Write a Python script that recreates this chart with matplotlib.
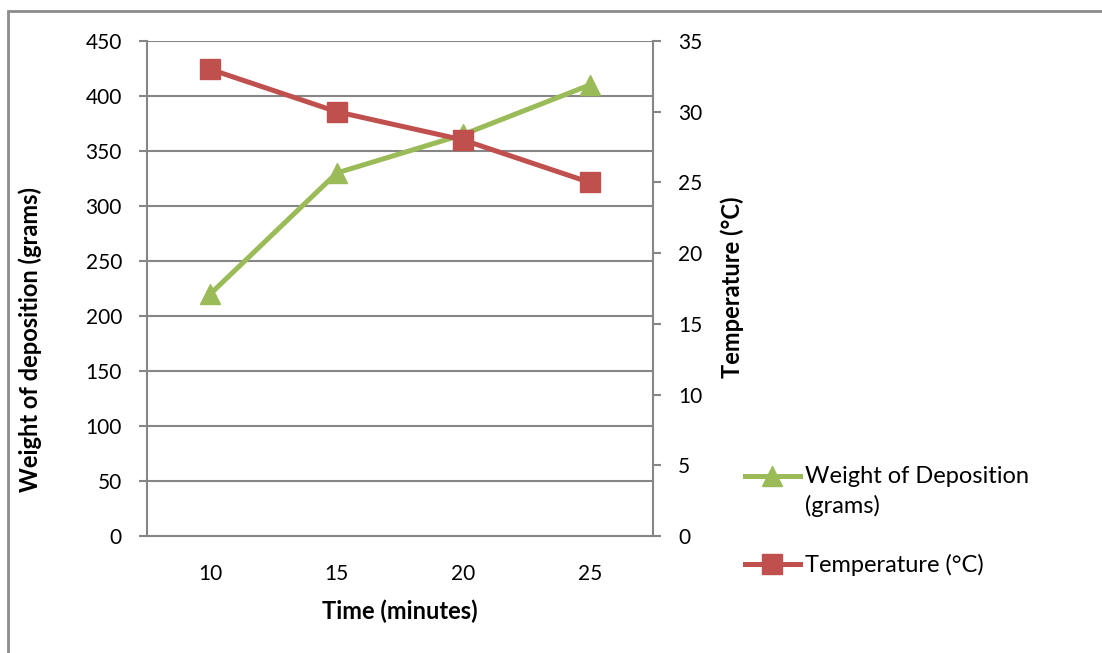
import matplotlib
matplotlib.use('Agg')
import matplotlib.pyplot as plt
from matplotlib.lines import Line2D
from matplotlib.patches import Rectangle

plt.rcParams['font.family'] = ['Lato', 'DejaVu Sans']

# Deposition experiment readings
time_min = [10, 15, 20, 25]
weight_g = [220, 330, 365, 410]
temp_c = [33, 30, 28, 25]

green = '#9BBB59'
red = '#C0504D'
axis_grey = '#868686'
fs = 15
fs_big = 17

fig = plt.figure(figsize=(11.02, 6.53), dpi=100)
ax = fig.add_axes([147/1102, 117/653, 506/1102, 495/653])
ax2 = ax.twinx()

xs = list(range(len(time_min)))
ax.plot(xs, weight_g, color=green, lw=3.6, marker='^', ms=15, mec=green, zorder=3)
ax2.plot(xs, temp_c, color=red, lw=3.6, marker='s', ms=14, mec=red, zorder=3)

ax.set_xlim(-0.5, len(time_min) - 0.5)
ax.set_ylim(0, 450)
ax.set_yticks(range(0, 451, 50))
ax2.set_ylim(0, 35)
ax2.set_yticks(range(0, 36, 5))
ax.set_xticks(xs)
ax.set_xticklabels([str(t) for t in time_min])

ax.grid(axis='y', color=axis_grey, lw=1.5)
ax.set_axisbelow(True)
for a in (ax, ax2):
    a.spines['top'].set_visible(False)
    for side in ('left', 'right', 'bottom'):
        a.spines[side].set_color(axis_grey)
        a.spines[side].set_linewidth(1.5)
ax.spines['right'].set_visible(False)
ax2.spines['left'].set_visible(False)
ax2.spines['bottom'].set_visible(False)

ax.tick_params(axis='y', length=6, width=1.5, color=axis_grey, pad=12, labelsize=fs)
ax2.tick_params(axis='y', length=6, width=1.5, color=axis_grey, pad=12, labelsize=fs)
ax.tick_params(axis='x', length=0, pad=20, labelsize=fs)

fig.text(30/1102, 1 - 339/653, 'Weight of deposition (grams)', rotation=90,
         ha='center', va='center', fontsize=fs_big, fontweight='bold')
fig.text(732/1102, 1 - 287/653, 'Temperature (°C)', rotation=90,
         ha='center', va='center', fontsize=fs_big, fontweight='bold')
fig.text(400/1102, 1 - 611/653, 'Time (minutes)', ha='center', va='center',
         fontsize=fs_big, fontweight='bold')

# legend entries drawn by hand so the handle sits on the first text line
entries = [(green, '^', 15, 'Weight of Deposition\n(grams)', 476),
           (red, 's', 14, 'Temperature (°C)', 564)]
for col, mk, size, label, ypix in entries:
    yf = 1 - ypix / 653
    fig.add_artist(Line2D([745/1102, 800/1102], [yf, yf], transform=fig.transFigure,
                          color=col, lw=3.6))
    fig.add_artist(Line2D([772/1102], [yf], transform=fig.transFigure, color=col,
                          marker=mk, ms=size, mec=col))
    fig.text(805/1102, yf + 10/653, label, ha='left', va='top', fontsize=fs_big,
             linespacing=1.45)

# chart frame
fig.add_artist(Rectangle((8/1102, -0.1), 1.2, 1 - 11/653 + 0.1, transform=fig.transFigure,
                         fill=False, ec='#8c8c8c', lw=2))

fig.savefig('out.png', dpi=100)
